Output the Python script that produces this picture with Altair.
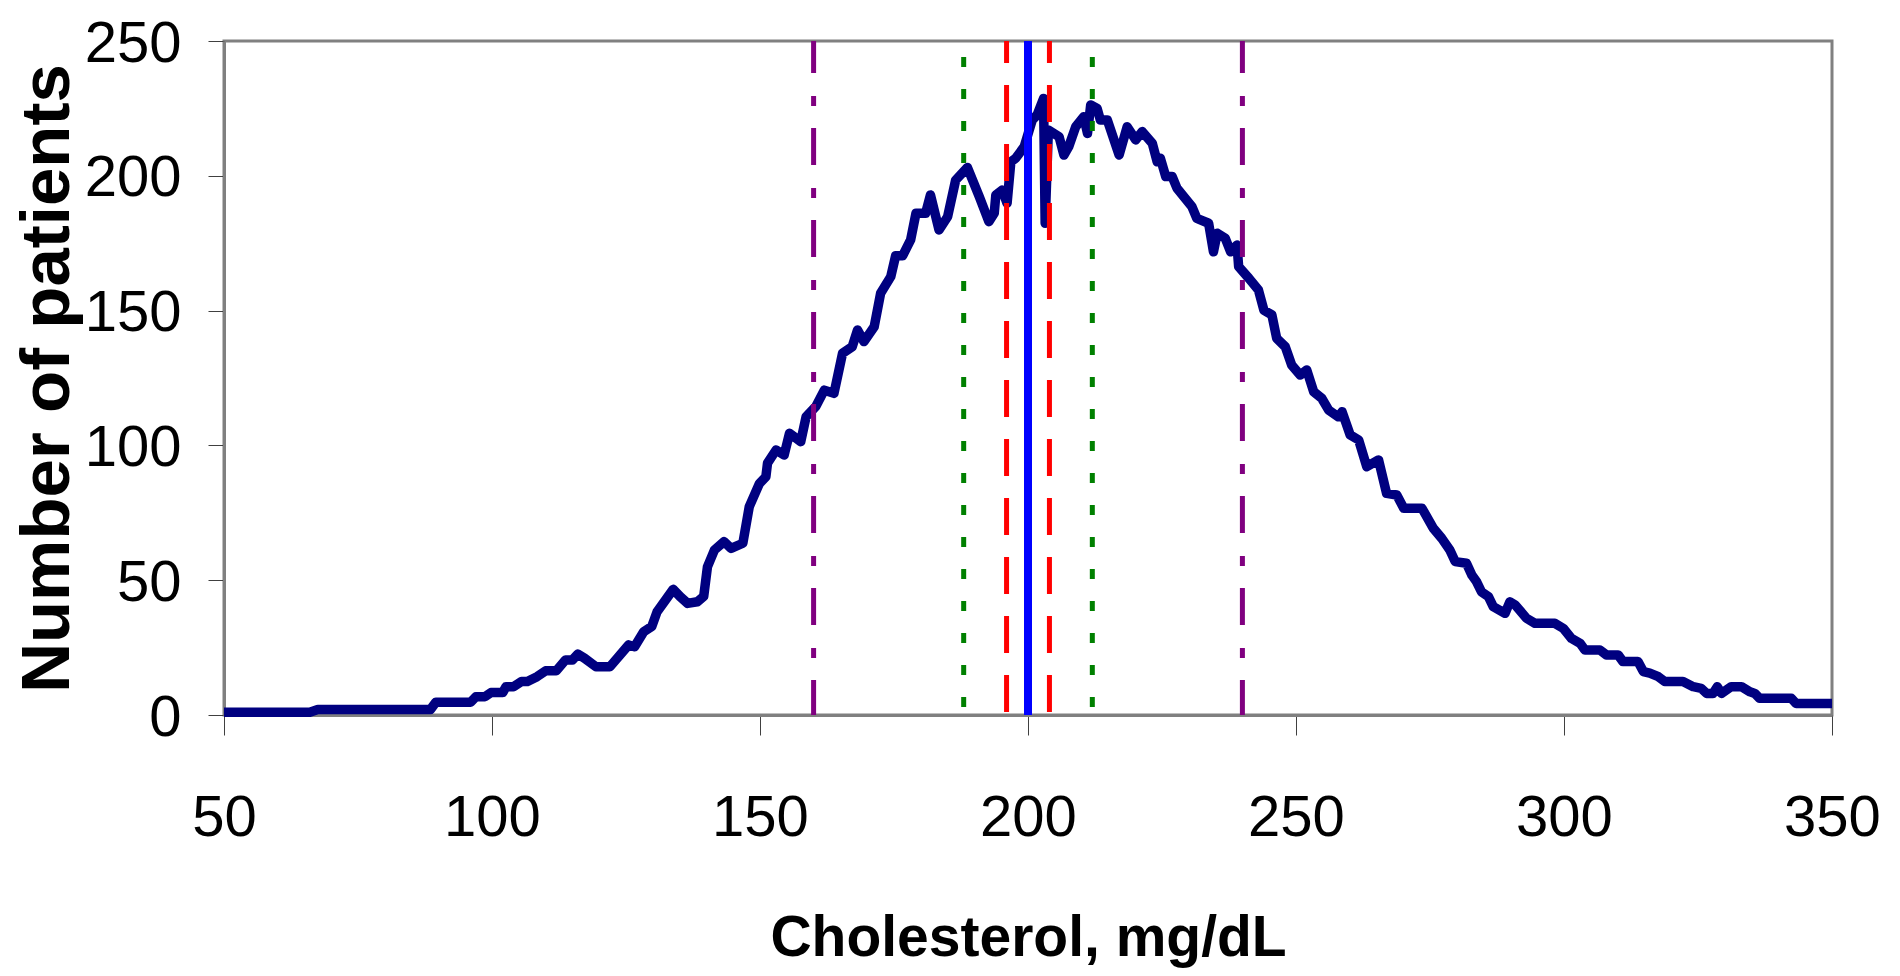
import altair as alt
import pandas as pd

# Cholesterol (mg/dL) and number of patients
chol = [
    50, 66, 67.5, 88.5, 89.5, 96, 97, 98.7, 99.8, 102,
    102.6, 104, 105.5, 106.6, 108.4, 110, 112, 113.7, 115, 116,
    117.3, 119.4, 122, 125.5, 126.6, 128.3, 129.8, 130.8, 133.8, 135.1,
    136.5, 138.3, 139.5, 140.2, 141.5, 143.3, 144.6, 146.8, 148, 149.9,
    151.1, 151.4, 153, 154.5, 155.5, 157.6, 158.6, 160.4, 162, 163.8,
    165.4, 167.2, 168.2, 169.4, 171.3, 172.5, 174.4, 175.3, 176.6, 178.1,
    179.1, 180.9, 181.8, 183.4, 185, 186.5, 188.7, 190.9, 192.7, 193.7,
    194, 195.2, 196.1, 196.8, 197.7, 199.3, 200.8, 201.7, 202.9, 203.2,
    203.8, 205.8, 206.7, 207.6, 208.9, 210.4, 211.1, 211.7, 212.9, 213.5,
    214.8, 217, 218.5, 220.1, 221.3, 223.2, 224.1, 224.7, 225.7, 226.9,
    227.8, 230.6, 231.5, 233.7, 234.6, 235.3, 236.8, 237.8, 239, 239.3,
    241.2, 243, 244, 245.5, 246.4, 248, 249.2, 250.8, 252, 253.3,
    254.8, 256.1, 257.9, 258.6, 260.1, 261.7, 263.2, 265.4, 266.9, 268.8,
    270.1, 273.5, 275.6, 277.2, 278.7, 279.7, 281.8, 282.8, 283.7, 284.6,
    285.9, 286.8, 289, 289.9, 290.9, 293, 294.6, 298.3, 299.9, 301.4,
    303, 303.9, 306.7, 307.9, 310.1, 311, 313.8, 314.8, 316, 317.6,
    318.8, 322.2, 324.1, 325.6, 326.6, 327.8, 328.6, 329.4, 331.2, 333.1,
    334.7, 335.6, 336.5, 342.4, 343.3, 350,
]
patients = [
    1, 1, 2, 2, 4.7, 4.7, 6.8, 6.8, 8.3, 8.3,
    10.5, 10.5, 12.4, 12.4, 14.2, 16.4, 16.4, 20.4, 20.4, 22.6,
    21, 17.9, 17.9, 26, 25.3, 30.9, 32.8, 38.3, 46.6, 43.9,
    41.4, 42, 44, 55, 61.2, 64.3, 61.8, 63.7, 77.3, 85.9,
    88.4, 93.4, 98.3, 96.4, 104.5, 101.4, 110.6, 114.4, 120.5, 119.3,
    134.2, 136.6, 142.8, 138.5, 144, 156.4, 162.6, 170.3, 170.3, 176.2,
    186.1, 186.1, 192.9, 179.9, 184.8, 198.4, 203.1, 192.3, 183, 186.1,
    192.9, 194.7, 189.8, 205.2, 206.5, 210.8, 220.7, 222.6, 228.7, 182.4,
    217, 214.5, 207.7, 210.8, 218.2, 221.9, 215.7, 226.3, 225, 220.7,
    220.7, 207.7, 218.2, 213.3, 216.4, 212, 205.2, 206.5, 199.7, 199.7,
    195.4, 188.5, 184.2, 182.4, 171.8, 178.7, 176.8, 171.8, 174.3, 166.3,
    162, 157.6, 150.2, 148.4, 139.7, 136.6, 129.8, 126.1, 128, 119.9,
    117.5, 113.1, 110.6, 112.5, 103.9, 102, 92.1, 94.6, 82.2, 81.6,
    76.7, 76.7, 69.3, 65.5, 61.2, 56.9, 56.3, 51.9, 49.4, 45.7,
    43.9, 40.2, 37.7, 42, 40.8, 35.9, 34, 34, 32.1, 28.4,
    26.6, 24.1, 24.1, 22.3, 22.3, 19.8, 19.8, 16.1, 15.5, 14.2,
    12.4, 12.4, 10.5, 9.9, 8, 8, 10.5, 8, 10.5, 10.5,
    8.6, 8, 6.2, 6.2, 4.3, 4.3,
]

# Reference lines
purple_x = [160, 240]
green_x = [188, 212]
red_x = [196, 204]
blue_x = [200]

x_ticks = [50, 100, 150, 200, 250, 300, 350]
y_ticks = [0, 50, 100, 150, 200, 250]

W, H = 1608, 674
FONT = "Liberation Sans, Arial, sans-serif"

curve_df = pd.DataFrame({"chol": chol, "patients": patients})

xscale = alt.Scale(domain=[50, 350], nice=False, zero=False)
yscale = alt.Scale(domain=[0, 250], nice=False)

x_axis = alt.Axis(
    values=x_ticks, grid=False,
    title="Cholesterol, mg/dL", titleFont=FONT, titleFontSize=57,
    titleFontWeight="bold", titleColor="black", titleBaseline="alphabetic",
    titleX=W / 2, titleY=240, titleAlign="center",
    labelFont=FONT, labelFontSize=58, labelColor="black",
    labelBaseline="alphabetic", labelPadding=100, labelFlush=False,
    tickSize=20, tickColor="#404040", tickWidth=1,
    domainColor="#808080", domainWidth=3,
)
y_axis = alt.Axis(
    values=y_ticks, grid=False,
    title="Number of patients", titleFont=FONT, titleFontSize=69,
    titleFontWeight="bold", titleColor="black", titleAngle=-90,
    titleBaseline="alphabetic", titleAlign="center",
    titleX=-156, titleY=H / 2,
    labelFont=FONT, labelFontSize=58, labelColor="black",
    labelBaseline="alphabetic", labelOffset=20, labelPadding=27,
    labelFlush=False,
    tickSize=16, tickColor="#404040", tickWidth=1,
    domainColor="#808080", domainWidth=3,
)

curve = alt.Chart(curve_df).mark_line(
    color="#000080", strokeWidth=9.5, strokeJoin="round", strokeCap="butt"
).encode(
    x=alt.X("chol:Q", scale=xscale, axis=x_axis),
    y=alt.Y("patients:Q", scale=yscale, axis=y_axis),
)

def vrules(vals, color, width, dash=None, offset=0):
    kw = dict(color=color, strokeWidth=width)
    if dash is not None:
        kw["strokeDash"] = dash
        kw["strokeDashOffset"] = offset
    return alt.Chart(pd.DataFrame({"v": vals})).mark_rule(**kw).encode(
        x=alt.X("v:Q", scale=xscale)
    )

purple = vrules(purple_x, "#800080", 5, [37, 23, 10, 22], 5)
green = vrules(green_x, "#008000", 5, [10, 22], 16)
red = vrules(red_x, "#FF0000", 5, [37, 22], 15)
blue = vrules(blue_x, "#0000FF", 8)

chart = alt.layer(curve, purple, green, red, blue).properties(
    width=W, height=H,
    autosize=alt.AutoSizeParams(type="none"),
    padding={"left": 216, "top": 33, "right": 60, "bottom": 253},
    background="white",
).configure_view(
    stroke="#808080", strokeWidth=3
)

chart.save("out.html", embed_options={"renderer": "svg", "actions": False})
